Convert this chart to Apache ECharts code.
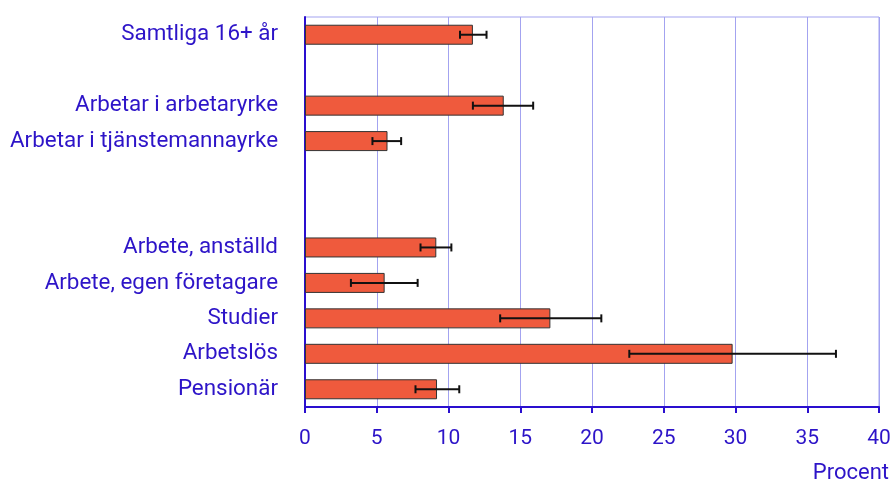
<!DOCTYPE html>
<html lang="sv">
<head>
<meta charset="utf-8" />
<title>Procent</title>
<script src="https://cdn.jsdelivr.net/npm/echarts@6/dist/echarts.min.js"></script>
<style>
  html, body { margin: 0; padding: 0; background: #fff; }
  #chart { width: 894px; height: 482px; }
</style>
</head>
<body>
<div id="chart"></div>
<script>
// kategorier (tomma strängar = mellanrum)
const categories = ['Samtliga 16+ år', '', 'Arbetar i arbetaryrke', 'Arbetar i tjänstemannayrke', '', '',
  'Arbete, anställd', 'Arbete, egen företagare', 'Studier', 'Arbetslös', 'Pensionär'];
const values = [11.7, null, 13.85, 5.75, null, null, 9.15, 5.55, 17.1, 29.8, 9.2];
const lower  = [10.8, null, 11.7, 4.7, null, null, 8.05, 3.2, 13.6, 22.6, 7.7];
const upper  = [12.65, null, 15.9, 6.7, null, null, 10.2, 7.85, 20.65, 37.0, 10.75];

const textBlue = '#2d14c8';
const axisBlue = '#2a0fcf';
const gridBlue = '#a3a3f0';

const errData = [];
categories.forEach(function (c, i) {
  if (values[i] != null) errData.push([i, lower[i], upper[i]]);
});

const chart = echarts.init(document.getElementById('chart'));
chart.setOption({
  animation: false,
  textStyle: { fontFamily: 'Roboto' },
  grid: {
    left: 305, right: 15, top: 17, bottom: 75,
    outerBoundsMode: 'none',
    containLabel: false,
    show: true, borderColor: gridBlue, borderWidth: 1
  },
  xAxis: {
    type: 'value',
    min: 0, max: 40, interval: 5,
    name: 'Procent',
    nameLocation: 'end',
    nameGap: 0,
    nameTextStyle: { color: textBlue, fontSize: 22, align: 'right', verticalAlign: 'top', padding: [55, -10, 0, 0] },
    axisLine: { show: true, lineStyle: { color: axisBlue, width: 2 } },
    axisTick: { show: true, length: 6, lineStyle: { color: axisBlue, width: 2 } },
    axisLabel: { color: textBlue, fontSize: 21, margin: 21 },
    splitLine: { show: true, lineStyle: { color: gridBlue, width: 1 } }
  },
  yAxis: {
    type: 'category',
    data: categories,
    inverse: true,
    axisLine: { show: true, lineStyle: { color: axisBlue, width: 2 } },
    axisTick: { show: false },
    axisLabel: { color: textBlue, fontSize: 22.4, margin: 27, padding: [2, 0, 0, 0] },
    splitLine: { show: false }
  },
  series: [
    {
      type: 'bar',
      data: values,
      barWidth: 20,
      itemStyle: { color: '#ef5a3d', borderColor: '#333', borderWidth: 1 }
    },
    {
      type: 'custom',
      data: errData,
      z: 10,
      renderItem: function (params, api) {
        const y = api.value(0);
        const a = api.coord([api.value(1), y]);
        const b = api.coord([api.value(2), y]);
        const h = 4;
        const style = { stroke: '#111', lineWidth: 2 };
        return {
          type: 'group',
          children: [
            { type: 'line', shape: { x1: a[0], y1: a[1], x2: b[0], y2: b[1] }, style: style },
            { type: 'line', shape: { x1: a[0], y1: a[1] - h, x2: a[0], y2: a[1] + h }, style: style },
            { type: 'line', shape: { x1: b[0], y1: b[1] - h, x2: b[0], y2: b[1] + h }, style: style }
          ]
        };
      }
    }
  ]
});
</script>
</body>
</html>
